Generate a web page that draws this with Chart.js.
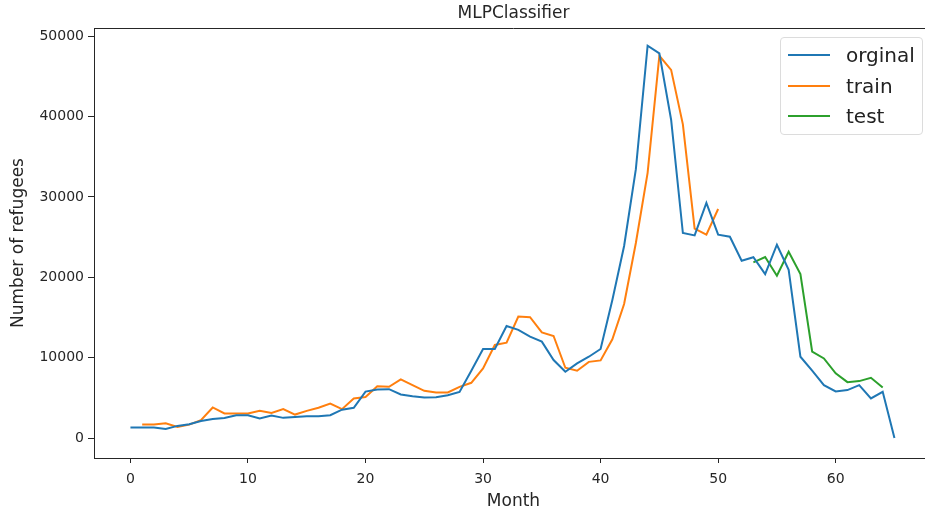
<!DOCTYPE html>
<html>
<head>
<meta charset="utf-8">
<script src="https://cdn.jsdelivr.net/npm/chart.js@4/dist/chart.umd.min.js"></script>
<style>
  body { margin: 0; background: #fff; }
  #wrap { position: relative; width: 925px; height: 512px; overflow: hidden; }
  #legend {
    position: absolute; left: 780px; top: 37px; width: 141px; height: 96px;
    border: 1px solid #dcdcdc; border-radius: 4px; background: rgba(255,255,255,0.8);
    font-family: "DejaVu Sans", sans-serif; font-size: 20px; color: #222;
  }
  .item { position: absolute; left: 0; height: 30px; line-height: 30px; white-space: nowrap; }
  .swatch { position: absolute; left: 7px; top: 14px; width: 42px; height: 2px; }
  .label { position: absolute; left: 65px; top: 0; }
</style>
</head>
<body>
<div id="wrap">
  <!-- axes run a little past the right edge, as in the cropped original -->
  <canvas id="chart" width="933" height="512"></canvas>
  <div id="legend"></div>
</div>
<script>
// month 0..65
const originalValues = [
  1330, 1330, 1330, 1170, 1540, 1750, 2160, 2410, 2530, 2870,
  2870, 2450, 2830, 2540, 2660, 2740, 2740, 2870, 3560, 3800,
  5800, 6070, 6110, 5450, 5240, 5080, 5100, 5350, 5770, 8400,
  11100, 11100, 13960, 13470, 12630, 12010, 9730, 8270, 9310, 10140,
  11100, 17200, 23900, 33450, 48790, 47840, 39600, 25520, 25220, 29260,
  25310, 25050, 22070, 22500, 20400, 24060, 20950, 10140, 8400, 6610,
  5820, 5990, 6610, 4950, 5780, 50
];
const originalStart = 0;

// month 1..50
const trainValues = [
  1700, 1700, 1870, 1420, 1700, 2240, 3830, 3080, 3080, 3080,
  3410, 3160, 3620, 2950, 3410, 3790, 4320, 3620, 4950, 5120,
  6480, 6400, 7320, 6620, 5900, 5700, 5700, 6400, 6900, 8690,
  11600, 11880, 15130, 15050, 13170, 12720, 8770, 8400, 9500, 9680,
  12300, 16700, 24280, 33000, 47550, 45800, 39030, 26060, 25310, 28500
];
const trainStart = 1;

// month 53..64
const testValues = [21860, 22530, 20200, 23190, 20410, 10760, 9930, 8070, 6980, 7110, 7520, 6320];
const testStart = 53;

const xTicks = [0, 10, 20, 30, 40, 50, 60];
const yTicks = [0, 10000, 20000, 30000, 40000, 50000];

const toPoints = (values, start) => values.map((v, i) => ({ x: start + i, y: v }));

const font = "DejaVu Sans";
const ink = "#262626";

const frame = {
  id: "frame",
  afterDraw(chart) {
    const { ctx, chartArea } = chart;
    ctx.save();
    ctx.strokeStyle = ink;
    ctx.lineWidth = 1;
    ctx.beginPath();
    ctx.moveTo(chartArea.left, chartArea.top + 0.5);
    ctx.lineTo(chartArea.right, chartArea.top + 0.5);
    ctx.stroke();
    ctx.restore();
  },
};

const chart = new Chart(document.getElementById("chart"), {
  type: "line",
  data: {
    datasets: [
      { label: "orginal", data: toPoints(originalValues, originalStart), borderColor: "#1f77b4" },
      { label: "train", data: toPoints(trainValues, trainStart), borderColor: "#ff7f0e" },
      { label: "test", data: toPoints(testValues, testStart), borderColor: "#2ca02c" },
    ],
  },
  options: {
    responsive: false,
    animation: false,
    layout: { padding: 0 },
    elements: {
      point: { radius: 0 },
      line: { borderWidth: 2, tension: 0, fill: false },
    },
    scales: {
      x: {
        type: "linear",
        min: -3.1,
        max: 68.28,
        afterBuildTicks: (scale) => { scale.ticks = xTicks.map((v) => ({ value: v })); },
        afterFit: (scale) => { scale.height = 54; },
        grid: { drawOnChartArea: false, drawTicks: true, tickLength: 5, color: ink },
        border: { color: ink, width: 1 },
        ticks: { font: { family: font, size: 14 }, color: ink, padding: 8, maxRotation: 0 },
        title: { display: true, text: "Month", font: { family: font, size: 17 }, color: ink, padding: { top: 0, bottom: 0 } },
      },
      y: {
        type: "linear",
        min: -2450,
        max: 51000,
        afterBuildTicks: (scale) => { scale.ticks = yTicks.map((v) => ({ value: v })); },
        afterFit: (scale) => { scale.width = 94; },
        grid: { drawOnChartArea: false, drawTicks: true, tickLength: 6, color: ink },
        border: { color: ink, width: 1 },
        ticks: { font: { family: font, size: 14 }, color: ink, padding: 4, callback: (v) => String(v) },
        title: { display: true, text: "Number of refugees", font: { family: font, size: 17 }, color: ink, padding: { top: 8, bottom: 0 } },
      },
    },
    plugins: {
      legend: { display: false },
      tooltip: { enabled: false },
      title: {
        display: true,
        text: "MLPClassifier",
        fullSize: false,
        font: { family: font, size: 17, weight: "normal" },
        color: ink,
        padding: { top: 3.8, bottom: 3.8 },
      },
    },
  },
  plugins: [frame],
});

// legend drawn from the datasets
const legend = document.getElementById("legend");
chart.data.datasets.forEach((ds, i) => {
  const item = document.createElement("div");
  item.className = "item";
  item.style.top = (2 + i * 30.7) + "px";
  const sw = document.createElement("div");
  sw.className = "swatch";
  sw.style.background = ds.borderColor;
  const lab = document.createElement("span");
  lab.className = "label";
  lab.textContent = ds.label;
  item.appendChild(sw);
  item.appendChild(lab);
  legend.appendChild(item);
});
</script>
</body>
</html>
